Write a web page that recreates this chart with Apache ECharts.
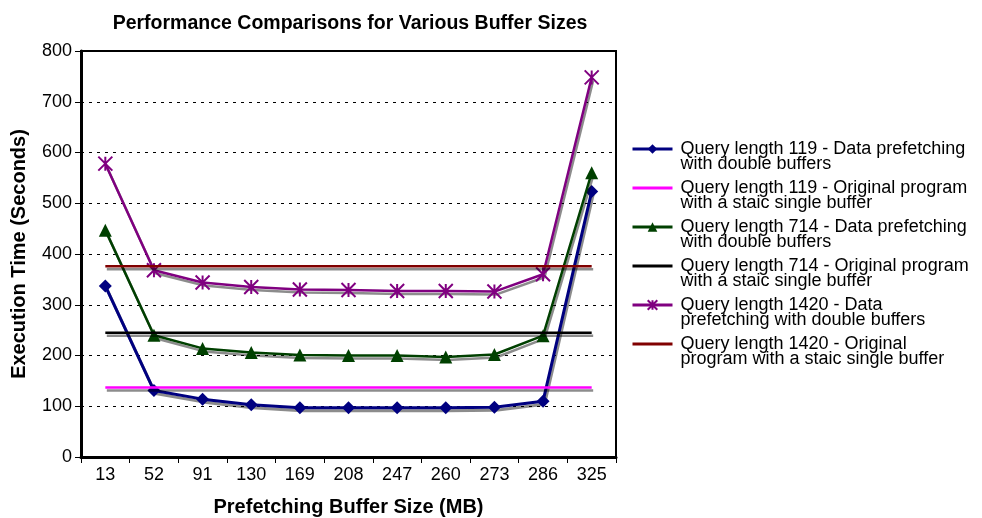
<!DOCTYPE html>
<html>
<head>
<meta charset="utf-8">
<script src="https://cdn.jsdelivr.net/npm/echarts@6/dist/echarts.min.js"></script>
<style>
  html, body { margin: 0; padding: 0; background: #fff; }
  #chart { width: 982px; height: 518px; }
</style>
</head>
<body>
<div id="chart"></div>
<script>
// buffer sizes (MB)
const bufferSizes = ['13', '52', '91', '130', '169', '208', '247', '260', '273', '286', '325']

// execution times (seconds)
const q119Prefetch = [337, 131, 114, 103, 97, 97, 97, 97, 98, 110, 523]
const q119Original = [137, 137, 137, 137, 137, 137, 137, 137, 137, 137, 137]
const q714Prefetch = [447, 240, 214, 206, 201, 200, 200, 197, 202, 239, 560]
const q714Original = [245, 245, 245, 245, 245, 245, 245, 245, 245, 245, 245]
const q1420Prefetch = [578, 368, 344, 335, 330, 329, 327, 327, 326, 360, 748]
const q1420Original = [376, 376, 376, 376, 376, 376, 376, 376, 376, 376, 376]

const seriesNames = [
  'Query length 119 - Data prefetching with double buffers',
  'Query length 119 - Original program with a staic single buffer',
  'Query length 714 - Data prefetching with double buffers',
  'Query length 714 - Original program with a staic single buffer',
  'Query length 1420 - Data prefetching with double buffers',
  'Query length 1420 - Original program with a staic single buffer'
]
const legendLabels = [
  'Query length 119 - Data prefetching\nwith double buffers',
  'Query length 119 - Original program\nwith a staic single buffer',
  'Query length 714 - Data prefetching\nwith double buffers',
  'Query length 714 - Original program\nwith a staic single buffer',
  'Query length 1420 - Data\nprefetching with double buffers',
  'Query length 1420 - Original\nprogram with a staic single buffer'
]

const asterisk = 'path://M0,0 L10,10 M10,0 L0,10 M5,0 L5,10'
const font = 'Arial, Liberation Sans, sans-serif'

const shadow = {
  shadowColor: 'rgba(0,0,0,0.45)',
  shadowOffsetX: 1.5,
  shadowOffsetY: 3,
  shadowBlur: 0
}

const makeLine = (idx, data, color, width, symbol, symbolSize, extraItem) => ({
  name: seriesNames[idx],
  type: 'line',
  data: data,
  symbol: symbol,
  symbolSize: symbolSize,
  showSymbol: symbol !== 'none',
  z: 3 + idx,
  lineStyle: Object.assign({ color: color, width: width }, shadow),
  itemStyle: Object.assign({ color: color }, extraItem || {}),
  emphasis: { disabled: true }
})

// plain-line legend entries: hide the default marker
const legendData = seriesNames.map((name, i) =>
  i % 2 === 1
    ? { name: name, itemStyle: { color: 'rgba(0,0,0,0)', borderWidth: 0, opacity: 0 } }
    : { name: name })

const chart = echarts.init(document.getElementById('chart'))
const option = {
  animation: false,
  title: {
    text: 'Performance Comparisons for Various Buffer Sizes',
    left: 345,
    textAlign: 'center',
    top: 9,
    textStyle: { fontFamily: font, fontSize: 19.5, fontWeight: 'bold', color: '#000' }
  },
  legend: {
    orient: 'vertical',
    left: 626,
    top: 120,
    itemWidth: 40,
    itemHeight: 12,
    itemGap: -9,
    data: legendData,
    // leading blank line keeps the icon level with the first text line
    formatter: name => '\n' + legendLabels[seriesNames.indexOf(name)],
    lineStyle: { width: 3 },
    textStyle: { fontFamily: font, fontSize: 18, color: '#000', lineHeight: 15, padding: [0, 0, 0, 3] }
  },
  grid: {
    left: 81,
    right: 366,
    top: 51,
    bottom: 61,
    containLabel: false,
    outerBoundsMode: 'none',
    show: true,
    borderColor: '#000',
    borderWidth: 2
  },
  xAxis: {
    type: 'category',
    data: bufferSizes,
    boundaryGap: true,
    name: 'Prefetching Buffer Size (MB)',
    nameLocation: 'middle',
    nameGap: 40,
    nameMoveOverlap: false,
    nameTextStyle: { fontFamily: font, fontSize: 20, fontWeight: 'bold', color: '#000' },
    axisLine: { lineStyle: { color: '#000', width: 3 } },
    axisTick: { show: true, length: 6, lineStyle: { color: '#000', width: 1 } },
    axisLabel: { fontFamily: font, fontSize: 18, color: '#000', margin: 9 },
    splitLine: { show: false }
  },
  yAxis: {
    type: 'value',
    min: 0,
    max: 800,
    interval: 100,
    name: 'Execution Time (Seconds)',
    nameLocation: 'middle',
    nameGap: 52,
    nameMoveOverlap: false,
    nameTextStyle: { fontFamily: font, fontSize: 20, fontWeight: 'bold', color: '#000' },
    axisLine: { show: true, lineStyle: { color: '#000', width: 3 } },
    axisTick: { show: true, length: 6, lineStyle: { color: '#000', width: 1 } },
    axisLabel: { fontFamily: font, fontSize: 18, color: '#000', margin: 9 },
    splitLine: { show: true, lineStyle: { color: '#000', width: 1, type: [3, 5] } }
  },
  series: [
    makeLine(0, q119Prefetch, '#000080', 3, 'diamond', 13),
    makeLine(1, q119Original, '#ff00ff', 2.5, 'none', 0),
    makeLine(2, q714Prefetch, '#004000', 2.5, 'triangle', 13),
    makeLine(3, q714Original, '#000000', 2.5, 'none', 0),
    makeLine(4, q1420Prefetch, '#800080', 2.5, asterisk, 14,
      { color: 'none', borderColor: '#800080', borderWidth: 2 }),
    makeLine(5, q1420Original, '#800000', 2.5, 'none', 0)
  ]
}
chart.setOption(option)
</script>
</body>
</html>
